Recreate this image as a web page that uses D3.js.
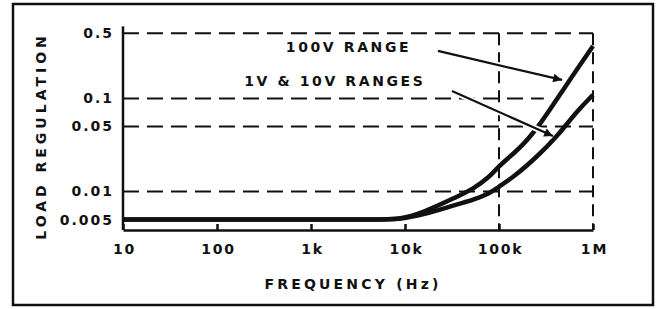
<!DOCTYPE html>
<html>
<head>
<meta charset="utf-8">
<script src="https://cdn.jsdelivr.net/npm/d3@7"></script>
<style>
  body { margin: 0; background: #fff; }
  text { font-family: "DejaVu Sans", sans-serif; font-weight: bold; fill: #111; }
</style>
</head>
<body>
<svg width="661" height="309"></svg>
<script>
// axis ticks
const freqTicks = [10, 100, 1e3, 1e4, 1e5, 1e6];
const freqLabels = ["10", "100", "1k", "10k", "100k", "1M"];
const regTicks = [0.5, 0.1, 0.05, 0.01, 0.005];
const regLabels = ["0.5", "0.1", "0.05", "0.01", "0.005"];

// 100V range curve
const freq100V = [10, 100, 1000, 5000, 8500, 15500, 35700, 52800, 80000, 95000, 122000, 180000, 273000, 535000, 1000000];
const reg100V  = [0.005, 0.005, 0.005, 0.005, 0.005, 0.0059, 0.0088, 0.0106, 0.0145, 0.0178, 0.0223, 0.0315, 0.0518, 0.146, 0.365];

// 1V & 10V ranges curve
const freqLow = [10, 100, 1000, 5000, 8500, 15500, 35700, 52800, 80000, 95000, 143000, 252000, 412000, 690000, 1000000];
const regLow  = [0.005, 0.005, 0.005, 0.005, 0.005, 0.0056, 0.0073, 0.0081, 0.0096, 0.0109, 0.0143, 0.0235, 0.0385, 0.075, 0.109];

// annotations: label, text anchor (freq, reg), arrow from / to (freq, reg)
const noteLabels = ["100V RANGE", "1V & 10V RANGES"];
const noteText   = [[540, 0.315], [195, 0.135]];
const noteFrom   = [[22400, 0.324], [31600, 0.12]];
const noteTo     = [[468000, 0.158], [375000, 0.0395]];

// dashed grid: horizontal levels, vertical frequencies
const gridReg  = [0.5, 0.1, 0.05, 0.01];
const gridFreq = [1e5, 1e6];

const svg = d3.select("svg");

const area = { left: 123, right: 593, top: 33.35, bottom: 230 };

const scX = d3.scaleLog().domain([10, 1e6]).range([area.left, area.right]);
const scY = d3.scaleLog().domain([0.00386, 0.5]).range([area.bottom, area.top]);

// outer frame
svg.append("rect")
   .attr("x", 13).attr("y", 4)
   .attr("width", 640).attr("height", 301)
   .attr("fill", "none")
   .attr("stroke", "#111")
   .attr("stroke-width", 2.5);

// dashed grid
svg.selectAll(".hgrid")
   .data(gridReg)
   .enter()
   .append("line")
   .attr("x1", area.left)
   .attr("x2", d => d == 0.1 ? scX(3e5) : area.right)
   .attr("y1", d => scY(d))
   .attr("y2", d => scY(d))
   .attr("stroke", "#111")
   .attr("stroke-width", 2)
   .attr("stroke-dasharray", "16,8");

svg.selectAll(".vgrid")
   .data(gridFreq)
   .enter()
   .append("line")
   .attr("x1", d => scX(d))
   .attr("x2", d => scX(d))
   .attr("y1", area.top)
   .attr("y2", area.bottom)
   .attr("stroke", "#111")
   .attr("stroke-width", 2)
   .attr("stroke-dasharray", "12,7");

// axes
let axisX = d3.axisBottom(scX)
              .tickValues(freqTicks)
              .tickFormat((d, i) => freqLabels[i])
              .tickSizeInner(-6)
              .tickSizeOuter(0)
              .tickPadding(14);
let gX = svg.append("g")
   .attr("transform", `translate(0, ${area.bottom})`)
   .call(axisX);
gX.select(".domain").attr("stroke-width", 2.5).attr("stroke", "#111");
gX.selectAll(".tick line").attr("stroke-width", 2.5).attr("stroke", "#111");
gX.selectAll("text")
  .attr("font-size", 14)
  .attr("letter-spacing", 1.8)
  .attr("dx", 1)
  .attr("font-family", "DejaVu Sans")
  .attr("font-weight", "bold")
  .attr("fill", "#111");

let axisY = d3.axisLeft(scY)
              .tickValues(regTicks)
              .tickFormat((d, i) => regLabels[i])
              .tickSize(0)
              .tickPadding(9);
let gY = svg.append("g")
   .attr("transform", `translate(${area.left}, 0)`)
   .call(axisY);
gY.select(".domain").remove();
gY.selectAll("text")
  .attr("font-size", 14)
  .attr("letter-spacing", 2)
  .attr("font-family", "DejaVu Sans")
  .attr("font-weight", "bold")
  .attr("fill", "#111");

svg.append("line")
   .attr("x1", area.left).attr("x2", area.left)
   .attr("y1", area.top - 7).attr("y2", area.bottom)
   .attr("stroke", "#111")
   .attr("stroke-width", 2.5);

// curves
const line = d3.line()
               .x(d => scX(d[0]))
               .y(d => scY(d[1]))
               .curve(d3.curveBasis);

svg.append("path")
   .datum(d3.zip(freqLow, regLow))
   .attr("d", line)
   .attr("fill", "none")
   .attr("stroke", "#111")
   .attr("stroke-width", 4.5);

svg.append("path")
   .datum(d3.zip(freq100V, reg100V))
   .attr("d", line)
   .attr("fill", "none")
   .attr("stroke", "#111")
   .attr("stroke-width", 4.5);

// arrows
svg.append("defs").append("marker")
   .attr("id", "head")
   .attr("viewBox", "0 0 10 10")
   .attr("refX", 10).attr("refY", 5)
   .attr("markerWidth", 8).attr("markerHeight", 4)
   .attr("markerUnits", "strokeWidth")
   .attr("orient", "auto")
   .append("path")
   .attr("d", "M0,0 L10,5 L0,10 Z")
   .attr("fill", "#111");

noteLabels.forEach((lab, i) => {
    svg.append("line")
       .attr("x1", scX(noteFrom[i][0])).attr("y1", scY(noteFrom[i][1]))
       .attr("x2", scX(noteTo[i][0])).attr("y2", scY(noteTo[i][1]))
       .attr("stroke", "#fff")
       .attr("stroke-width", 6);
    svg.append("line")
       .attr("x1", scX(noteFrom[i][0])).attr("y1", scY(noteFrom[i][1]))
       .attr("x2", scX(noteTo[i][0])).attr("y2", scY(noteTo[i][1]))
       .attr("stroke", "#111")
       .attr("stroke-width", 2.2)
       .attr("marker-end", "url(#head)");
    svg.append("text")
       .attr("x", scX(noteText[i][0]))
       .attr("y", scY(noteText[i][1]))
       .attr("font-size", 14)
       .attr("letter-spacing", 2.6)
       .text(lab);
});

// axis titles
svg.append("text")
   .attr("transform", "translate(46, 136) rotate(-90)")
   .attr("text-anchor", "middle")
   .attr("font-size", 14)
   .attr("letter-spacing", 4)
   .text("LOAD REGULATION");

svg.append("text")
   .attr("x", 353)
   .attr("y", 289)
   .attr("text-anchor", "middle")
   .attr("font-size", 14)
   .attr("letter-spacing", 3.2)
   .text("FREQUENCY (Hz)");
</script>
</body>
</html>
